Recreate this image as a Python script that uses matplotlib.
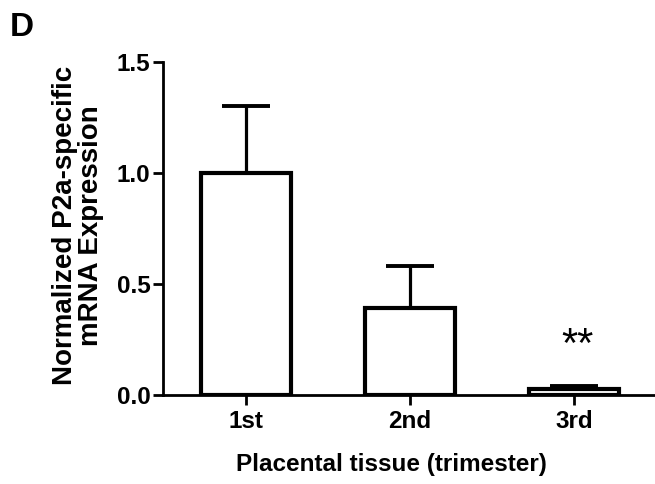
import matplotlib
matplotlib.use("Agg")
import matplotlib.pyplot as plt

# Trimester groups and normalized P2a-specific mRNA expression (mean, upper SEM)
trimesters = ["1st", "2nd", "3rd"]
expression = [1.00, 0.39, 0.027]
sem_upper = [0.30, 0.19, 0.013]
significance = ["", "", "**"]
yticks = [0.0, 0.5, 1.0, 1.5]

plt.rcParams["font.family"] = ["Liberation Sans", "DejaVu Sans"]
plt.rcParams["font.weight"] = "bold"

fig = plt.figure(figsize=(6.55, 4.84), dpi=100)
ax = fig.add_axes([0.2489, 0.1839, 0.7511, 0.688])

x = list(range(len(trimesters)))
ax.bar(x, expression, width=0.55, color="white", edgecolor="black",
       linewidth=3.0, zorder=3)
ax.errorbar(x, expression, yerr=[[0] * len(x), sem_upper], fmt="none",
            ecolor="black", elinewidth=2.3, capsize=17, capthick=2.8, zorder=2)

for xi, label in zip(x, significance):
    if label:
        ax.text(xi + 0.02, 0.17, label, ha="center", va="baseline",
                fontsize=30, fontweight="normal")

ax.set_xlim(-0.506, 2.494)
ax.set_ylim(0, 1.5)
ax.set_xticks(x)
ax.set_xticklabels(trimesters)
ax.set_yticks(yticks)
ax.set_yticklabels([f"{v:.1f}" for v in yticks])

for side in ("top", "right"):
    ax.spines[side].set_visible(False)
for side in ("left", "bottom"):
    ax.spines[side].set_linewidth(2.0)

ax.tick_params(axis="both", length=7, width=2.0, labelsize=17.5, pad=2)
ax.tick_params(axis="x", pad=4)

ax.set_xlabel("Placental tissue (trimester)", fontsize=17.5, fontweight="bold")
ax.xaxis.set_label_coords(0.465, -0.175)
ax.set_ylabel("Normalized P2a-specific\nmRNA Expression", fontsize=20,
              fontweight="bold", linespacing=1.0)
ax.yaxis.set_label_coords(-0.12, 0.51)

fig.text(0.015, 0.975, "D", fontsize=24, fontweight="bold", va="top", ha="left")

fig.savefig("out.png", dpi=100)
